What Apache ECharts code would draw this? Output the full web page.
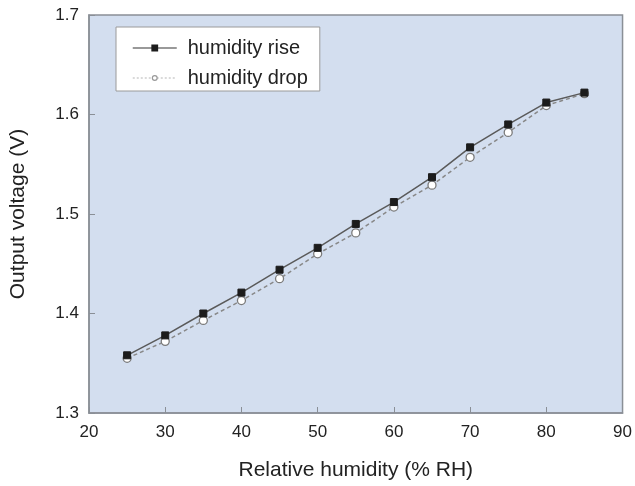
<!DOCTYPE html>
<html>
<head>
<meta charset="utf-8">
<script src="https://cdn.jsdelivr.net/npm/echarts@6/dist/echarts.min.js"></script>
<style>
  html, body { margin: 0; padding: 0; background: #ffffff; }
  #humidity_chart { width: 635px; height: 486px; }
</style>
</head>
<body>
<div id="humidity_chart"></div>
<script>
  // relative humidity (% RH)
  var humidity = [25, 30, 35, 40, 45, 50, 55, 60, 65, 70, 75, 80, 85];
  // output voltage (V)
  var riseVoltage = [1.358, 1.378, 1.400, 1.421, 1.444, 1.466, 1.490, 1.512, 1.537, 1.567, 1.590, 1.612, 1.622];
  var dropVoltage = [1.355, 1.372, 1.393, 1.413, 1.435, 1.460, 1.481, 1.507, 1.529, 1.557, 1.582, 1.609, 1.621];
  var seriesNames = ['humidity rise', 'humidity drop'];

  function pairs(xs, ys) {
    return xs.map(function (x, i) { return [x, ys[i]]; });
  }

  var textColor = '#222';
  var axisColor = '#8a8f96';
  var chart = echarts.init(document.getElementById('humidity_chart'));
  var option = {
    backgroundColor: '#ffffff',
    animation: false,
    textStyle: { fontFamily: 'Liberation Sans, Arial, sans-serif' },
    grid: {
      left: 88, right: 8, top: 15, bottom: 70,
      show: true,
      backgroundColor: '#d3deef',
      borderColor: axisColor,
      borderWidth: 1.5
    },
    legend: {
      left: 116, top: 27,
      orient: 'vertical',
      backgroundColor: '#ffffff',
      borderColor: '#9a9a9a',
      borderWidth: 1,
      borderRadius: 0,
      padding: [11, 12, 3, 16],
      itemGap: 10,
      itemWidth: 44,
      itemHeight: 6,
      textStyle: { fontSize: 20, color: textColor, padding: [0, 0, 0, 6] },
      data: [
        {
          name: seriesNames[0],
          itemStyle: { color: '#1c1c1c', borderColor: '#1c1c1c' },
          lineStyle: { color: '#777777', width: 1.5, type: 'solid' }
        },
        {
          name: seriesNames[1],
          itemStyle: { color: '#ffffff', borderColor: '#999999', borderWidth: 1.2 },
          lineStyle: { color: '#b5b5b5', width: 1.2, type: [2, 2] }
        }
      ]
    },
    xAxis: {
      type: 'value',
      min: 20, max: 90, interval: 10,
      name: 'Relative humidity (% RH)',
      nameLocation: 'middle',
      nameGap: 47,
      nameTextStyle: { fontSize: 21, color: textColor },
      axisLine: { show: true, lineStyle: { color: axisColor, width: 1.5 } },
      axisTick: { show: true, inside: true, length: 6, lineStyle: { color: axisColor } },
      axisLabel: { fontSize: 17, color: textColor, margin: 11 },
      splitLine: { show: false }
    },
    yAxis: {
      type: 'value',
      min: 1.3, max: 1.7, interval: 0.1,
      name: 'Output voltage (V)',
      nameLocation: 'middle',
      nameGap: 60,
      nameTextStyle: { fontSize: 21, color: textColor },
      axisLine: { show: true, lineStyle: { color: axisColor, width: 1.5 } },
      axisTick: { show: true, inside: true, length: 6, lineStyle: { color: axisColor } },
      axisLabel: { fontSize: 17, color: textColor, margin: 10, formatter: function (v) { return v.toFixed(1); } },
      splitLine: { show: false }
    },
    series: [
      {
        name: seriesNames[0],
        type: 'line',
        data: pairs(humidity, riseVoltage),
        symbol: 'rect',
        symbolSize: 7,
        itemStyle: { color: '#1c1c1c', borderColor: '#1c1c1c', borderWidth: 1 },
        lineStyle: { color: '#5a5a5a', width: 1.5, type: 'solid' },
        z: 3
      },
      {
        name: seriesNames[1],
        type: 'line',
        data: pairs(humidity, dropVoltage),
        symbol: 'circle',
        symbolSize: 8,
        itemStyle: { color: '#ffffff', borderColor: '#7a7a7a', borderWidth: 1.3 },
        lineStyle: { color: '#888888', width: 1.5, type: [4, 3] },
        z: 2
      }
    ]
  };
  chart.setOption(option);
  window.addEventListener('resize', function () {
    chart.resize();
  });
</script>
</body>
</html>
